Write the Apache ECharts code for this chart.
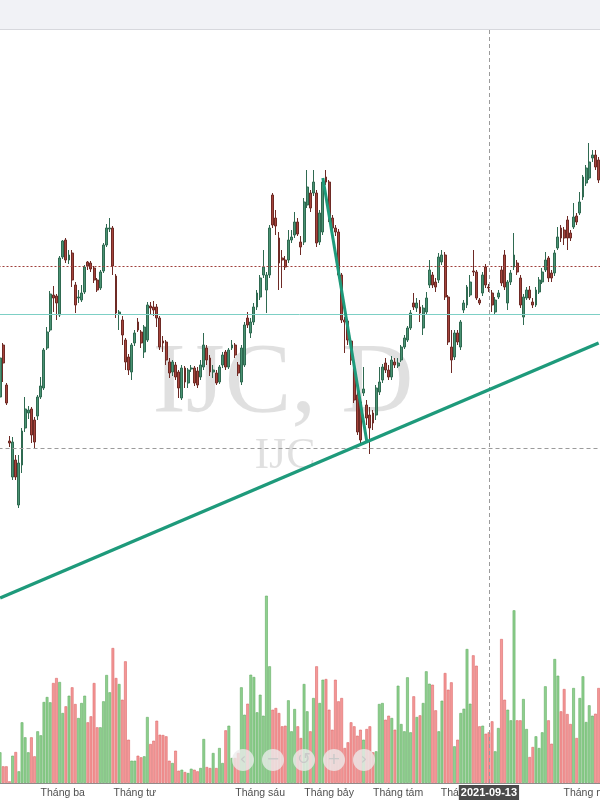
<!DOCTYPE html>
<html>
<head>
<meta charset="utf-8">
<script src="https://cdn.jsdelivr.net/npm/echarts@6/dist/echarts.min.js"></script>
<style>
html,body{margin:0;padding:0;background:#fff;}
#chart{width:600px;height:800px;}
</style>
</head>
<body>
<div id="chart"></div>
<script>
// ---------- DATA ----------
const startDate = '2021-01-25';
const barCount = 192;
const holidays = ['2021-02-10','2021-02-11','2021-02-12','2021-02-15','2021-02-16',
                  '2021-04-21','2021-04-30','2021-05-03','2021-09-02'];

const open = [
 40.3,45.5,41.5,35.9,32.3,34.0,29.5,33.5,37.2,38.7,
 39.1,38.0,38.4,40.3,41.2,45.2,47.0,50.5,50.4,48.5,
 54.3,56.0,54.0,54.7,51.5,50.2,50.0,50.8,53.8,53.7,
 53.2,52.0,51.2,52.9,55.5,57.1,57.2,52.4,48.6,48.0,
 46.0,44.3,42.8,45.7,47.8,46.8,44.8,46.0,49.4,49.3,
 49.3,48.2,45.9,45.8,43.8,42.8,43.5,42.8,40.2,43.2,
 41.7,43.1,43.2,42.9,42.3,43.3,45.2,44.2,42.8,42.7,
 41.8,43.5,44.8,43.3,45.2,45.5,43.5,41.8,43.5,48.2,
 46.7,47.8,49.3,50.3,52.5,51.0,52.5,60.5,58.2,56.2,
 54.2,54.0,54.0,56.0,56.5,57.8,55.8,55.8,59.5,60.7,
 60.7,60.7,55.8,56.8,62.3,61.8,58.2,57.2,56.8,52.5,
 48.0,47.9,45.9,42.8,40.5,39.8,40.7,39.5,38.5,38.7,
 38.5,40.8,42.0,43.7,43.0,42.3,43.8,43.4,44.0,45.3,
 46.0,47.2,49.7,49.2,49.3,47.2,48.8,51.5,52.5,51.8,
 52.0,53.8,54.5,50.3,45.3,44.3,46.7,45.3,49.0,49.5,
 50.5,52.9,52.8,50.0,50.7,53.3,51.3,50.7,48.8,50.3,
 53.0,54.5,49.7,51.8,53.3,53.7,52.2,48.3,50.2,51.0,
 49.8,49.5,50.8,51.8,53.0,54.2,52.7,52.7,55.2,57.2,
 57.0,58.0,56.7,57.3,58.4,58.7,60.3,61.7,62.2,64.2,
 64.5,64.0];

const close = [
 44.2,43.7,39.7,35.7,35.8,32.3,33.7,36.9,39.1,39.0,
 36.5,35.8,40.3,41.4,45.0,46.8,50.6,50.2,49.7,54.2,
 55.9,54.0,54.5,52.0,49.5,50.3,50.7,53.3,53.4,53.1,
 52.0,51.0,52.8,55.5,57.2,57.2,53.4,48.7,48.8,46.5,
 43.8,43.0,45.5,46.7,47.0,45.7,47.3,49.5,49.2,49.0,
 48.2,45.3,45.7,44.0,42.7,43.8,42.3,41.2,43.2,41.8,
 43.0,43.2,41.7,41.5,43.5,45.5,44.0,42.8,43.0,41.7,
 43.3,44.5,43.3,45.0,45.5,44.5,42.7,45.2,47.5,47.5,
 47.8,49.3,50.7,52.2,53.3,52.5,57.2,57.5,57.4,53.7,
 54.0,53.3,56.0,56.3,57.8,56.6,55.3,59.8,61.3,59.2,
 61.8,55.7,58.7,61.8,61.8,58.2,57.2,56.8,52.5,48.0,
 47.8,46.0,44.0,40.0,36.8,36.0,41.1,38.2,37.2,37.7,
 41.2,41.8,43.3,43.0,42.3,44.0,43.5,43.7,45.3,46.2,
 47.2,48.7,49.3,49.7,48.7,49.2,50.2,53.0,51.5,51.3,
 54.3,54.5,50.3,45.8,44.0,46.7,45.8,47.8,49.7,51.3,
 51.8,52.8,50.2,49.7,52.5,51.5,51.2,49.5,50.0,50.7,
 51.7,51.3,51.8,52.7,54.5,52.8,49.5,50.3,51.0,50.2,
 49.5,51.0,52.0,52.8,54.0,52.2,52.2,54.7,56.3,56.2,
 56.2,56.2,56.2,58.3,57.8,59.8,62.3,63.2,63.8,64.5,
 63.3,62.0];

const high = [
 44.5,45.7,41.7,36.4,36.3,34.5,34.5,37.2,40.3,39.4,
 39.3,38.3,40.5,42.3,45.2,47.3,50.9,51.4,50.6,54.4,
 56.0,56.2,55.0,55.0,51.8,51.0,51.5,53.5,53.9,53.9,
 53.4,52.2,53.0,55.7,57.6,58.2,57.4,52.6,49.0,48.4,
 46.2,44.6,45.7,47.0,48.2,47.0,47.5,49.8,49.8,49.9,
 49.6,48.4,46.4,46.0,44.2,44.0,43.8,43.0,43.5,43.4,
 43.2,43.5,43.4,43.3,44.0,46.7,45.5,44.5,43.5,43.0,
 43.5,44.8,45.0,45.2,46.0,45.7,43.8,45.5,47.8,48.8,
 48.2,49.7,51.0,52.5,55.0,52.8,57.5,60.7,59.0,56.8,
 55.0,54.4,57.0,57.0,58.8,58.2,56.4,60.2,63.0,61.0,
 63.0,61.0,59.0,62.0,63.0,62.0,58.5,57.5,57.1,52.7,
 48.3,48.1,46.2,43.2,40.8,40.2,43.3,40.0,39.3,39.0,
 41.5,43.3,43.6,44.2,43.5,44.4,44.2,44.2,45.5,46.5,
 47.4,49.0,50.7,50.2,50.0,49.5,50.8,54.0,52.8,52.2,
 54.7,55.0,54.8,50.5,47.0,47.0,47.0,48.0,50.0,51.5,
 52.5,55.0,53.0,50.2,52.8,53.6,51.6,51.0,50.3,51.0,
 53.4,55.0,52.0,53.0,56.7,54.0,52.5,50.6,51.3,51.4,
 50.2,51.3,52.3,53.2,54.8,54.4,53.0,55.0,57.3,57.5,
 57.3,58.4,57.0,59.7,58.7,60.8,62.5,63.5,65.7,65.0,
 65.0,64.3];

const low = [
 40.1,41.8,39.5,35.3,32.0,32.0,29.2,32.7,36.8,38.1,
 35.7,35.2,38.0,40.1,41.0,45.0,46.8,48.8,48.0,48.3,
 54.1,53.7,53.6,51.3,48.7,49.7,49.8,50.6,53.0,52.8,
 51.7,50.8,51.0,52.7,55.3,56.8,52.5,48.2,47.0,45.5,
 43.0,42.5,42.0,45.4,46.8,45.2,44.2,45.8,48.6,48.4,
 47.3,45.0,44.8,43.5,42.2,42.4,42.0,40.2,40.0,41.2,
 41.2,42.8,41.4,41.2,42.0,43.0,43.5,42.4,42.2,41.5,
 41.6,43.2,43.0,43.1,45.0,44.2,42.4,41.5,43.3,47.2,
 46.2,47.5,49.0,50.0,52.2,48.7,52.2,57.2,56.5,51.0,
 51.2,53.0,53.7,55.7,56.2,56.4,54.5,55.5,59.2,58.8,
 60.4,55.3,55.5,56.5,61.5,57.8,56.8,56.4,52.2,47.7,
 44.7,45.5,43.5,39.7,36.5,35.7,40.4,37.5,34.6,37.0,
 38.0,40.5,41.7,42.7,42.0,42.0,43.2,43.2,43.8,45.1,
 45.8,47.0,49.0,48.8,47.8,46.5,48.5,51.2,51.2,50.8,
 51.7,53.5,50.0,45.5,42.7,44.0,45.5,45.0,48.7,49.2,
 50.3,52.4,50.0,49.5,50.4,51.2,50.8,48.8,48.5,50.1,
 51.4,51.0,49.0,51.5,53.0,52.5,49.2,47.5,50.0,50.0,
 49.2,49.3,50.6,51.6,52.8,51.8,51.8,52.4,55.0,55.8,
 55.5,55.0,55.9,57.1,57.5,58.5,60.0,61.4,62.0,63.8,
 63.0,61.7];

const volume = [
 307,167,167,17,273,310,117,607,457,307,
 457,267,517,477,810,860,807,1000,1050,1010,
 700,767,873,957,790,650,800,873,607,667,
 1000,557,557,817,1080,907,1350,1050,990,833,
 1217,433,223,223,273,257,267,660,390,423,
 623,483,480,467,223,200,323,123,133,110,
 100,143,133,117,
 150,440,160,150,300,150,350,200,527,573,
 250,250,300,957,683,793,1083,1060,707,883,
 673,1873,1167,733,750,700,567,573,827,517,
 740,567,450,990,717,517,850,1167,800,1033,
 1040,733,533,1033,817,850,350,407,607,567,
 473,533,433,540,567,307,317,790,800,633,
 673,650,533,973,
 590,517,1057,507,867,660,677,800,1117,993,
 983,727,517,823,1100,933,1007,367,433,700,
 743,1340,793,1277,1173,567,573,493,507,617,
 317,550,1440,833,733,627,1727,627,627,840,
 540,260,360,467,350,507,967,627,393,1240,
 1073,717,940,690,590,950,450,850,1067,610,
 777,673,693,950];

const tickLabels = [
 ['2021-03-01','Tháng ba'],
 ['2021-04-01','Tháng tư'],
 ['2021-06-01','Tháng sáu'],
 ['2021-07-01','Tháng bảy'],
 ['2021-08-02','Tháng tám'],
 ['2021-09-01','Tháng chín'],
 ['2021-10-28','Tháng mười']
];

const resistanceLevel = 53.4;
const supportLevel = 48.6;
const crosshairDate = '2021-09-13';
const crosshairPrice = 35.2;

const trendLineLong = [['2021-01-25', 20.2], ['2021-11-01', 45.7]];
const trendLineDrop = [['2021-06-29', 62.2], ['2021-07-19', 35.9]];

const watermarkMain = 'IJC, D';
const watermarkSub = 'IJC';

// ---------- BUILD ----------
const dates = (function () {
  const out = [];
  const d = new Date(startDate + 'T00:00:00Z');
  while (out.length < barCount) {
    const wd = d.getUTCDay();
    const s = d.toISOString().slice(0, 10);
    if (wd !== 0 && wd !== 6 && holidays.indexOf(s) < 0) out.push(s);
    d.setUTCDate(d.getUTCDate() + 1);
  }
  return out;
})();

const tickMap = {};
tickLabels.forEach(function (t) { tickMap[t[0]] = t[1]; });

const candleData = dates.map(function (_, i) { return [open[i], close[i], low[i], high[i]]; });

const volData = volume.map(function (v, i) {
  const up = close[i] >= open[i];
  return {
    value: v,
    itemStyle: up ? { color: '#8fd08f', borderColor: '#63ad63' } : { color: '#f59898', borderColor: '#dc6a6a' }
  };
});

const chart = echarts.init(document.getElementById('chart'), null, { renderer: 'canvas' });

const ctrlY = 760;
const ctrlX = [243, 273, 304, 334, 364];
const ctrlGlyph = ['‹', '−', '↺', '+', '›'];
const controls = [];
ctrlX.forEach(function (cx, k) {
  controls.push({ type: 'circle', shape: { cx: cx, cy: ctrlY, r: 11 }, style: { fill: 'rgba(236,236,236,0.78)' }, z: 100 });
  controls.push({ type: 'text', x: cx, y: ctrlY, z: 101,
    style: { text: ctrlGlyph[k], fill: '#c9c9c9', font: '16px "DejaVu Sans"', textAlign: 'center', textVerticalAlign: 'middle', align: 'center', verticalAlign: 'middle' } });
});

const option = {
  animation: false,
  backgroundColor: '#ffffff',
  grid: [
    { left: -1.5, width: 601.7, top: 30, height: 753, containLabel: false, outerBoundsMode: 'none' },
    { left: -1.5, width: 601.7, top: 583, height: 200, containLabel: false, outerBoundsMode: 'none' }
  ],
  xAxis: [
    { type: 'category', gridIndex: 0, data: dates, show: false },
    { type: 'category', gridIndex: 1, data: dates,
      axisLine: { show: true, lineStyle: { color: '#8d8d8d', width: 1 } },
      axisTick: { show: false },
      splitLine: { show: false },
      axisLabel: {
        interval: function (idx, val) { return tickMap[val] !== undefined; },
        formatter: function (val) { return tickMap[val] || ''; },
        color: '#4f4f4f', fontSize: 10.5, fontFamily: 'Liberation Sans', margin: 5
      }
    }
  ],
  yAxis: [
    { type: 'value', gridIndex: 0, min: 1.7, max: 77, show: false, splitLine: { show: false } },
    { type: 'value', gridIndex: 1, min: 0, max: 2000, show: false, splitLine: { show: false } }
  ],
  graphic: [
    { type: 'text', x: 283, y: 385, z: 0,
      style: { text: watermarkMain, fill: 'rgba(0,0,0,0.12)', font: '100px "Liberation Serif"',
               textAlign: 'center', textVerticalAlign: 'middle', align: 'center', verticalAlign: 'middle' } },
    { type: 'text', x: 285, y: 456, z: 0,
      style: { text: watermarkSub, fill: 'rgba(0,0,0,0.12)', font: '44px "Liberation Serif"',
               textAlign: 'center', textVerticalAlign: 'middle', align: 'center', verticalAlign: 'middle' } },
    { type: 'rect', shape: { x: 0, y: 0, width: 600, height: 29 }, style: { fill: '#f1f2f6' }, z: 100 },
    { type: 'rect', shape: { x: 0, y: 29, width: 600, height: 1 }, style: { fill: '#d7d8dd' }, z: 100 }
  ].concat(controls),
  series: [
    {
      type: 'bar', name: 'Volume', xAxisIndex: 1, yAxisIndex: 1,
      data: volData, barWidth: '88%', z: 1,
      itemStyle: { borderWidth: 0.6 }
    },
    {
      type: 'candlestick', name: 'IJC', xAxisIndex: 0, yAxisIndex: 0,
      data: candleData, barWidth: 2.4, z: 3,
      itemStyle: { color: '#4a9273', color0: '#a5443c', borderColor: '#2f6a51', borderColor0: '#6e2a25', borderWidth: 1 },
      markLine: {
        silent: true, symbol: ['none', 'none'], animation: false,
        label: { show: false },
        data: [
          { yAxis: resistanceLevel, lineStyle: { color: '#9e3f3a', type: [2, 2], width: 1 } },
          { yAxis: supportLevel, lineStyle: { color: '#7dcfc5', type: 'solid', width: 1 } },
          { yAxis: crosshairPrice, lineStyle: { color: '#9b9b9b', type: [4, 3], width: 1 } },
          { xAxis: crosshairDate, lineStyle: { color: '#9b9b9b', type: [4, 3], width: 1 },
            label: { show: true, position: 'start', formatter: crosshairDate, distance: 2,
                     backgroundColor: '#4a4a4a', color: '#ffffff', fontSize: 11, fontWeight: 'bold',
                     fontFamily: 'Liberation Sans', padding: [2, 2] } }
        ]
      }
    },
    {
      type: 'line', name: 'trend1', xAxisIndex: 0, yAxisIndex: 0,
      data: trendLineLong, symbol: 'none', silent: true, z: 5,
      lineStyle: { color: '#1e9a7b', width: 3.5 }
    },
    {
      type: 'line', name: 'trend2', xAxisIndex: 0, yAxisIndex: 0,
      data: trendLineDrop, symbol: 'none', silent: true, z: 5,
      lineStyle: { color: '#1e9a7b', width: 3 }
    }
  ]
};

chart.setOption(option);
</script>
</body>
</html>
